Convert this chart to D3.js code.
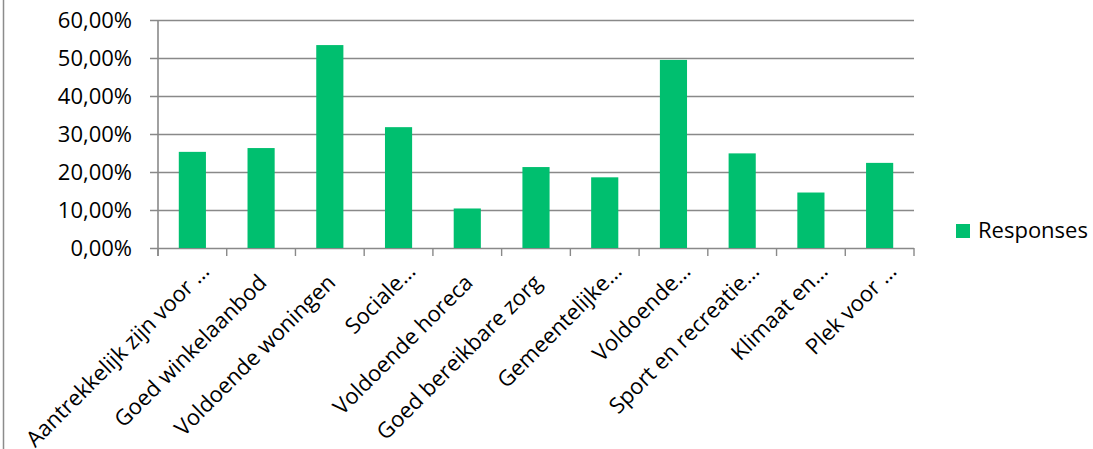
<!DOCTYPE html>
<html>
<head>
<meta charset="utf-8">
<script src="https://cdn.jsdelivr.net/npm/d3@7"></script>
<style>
  html, body { margin: 0; padding: 0; background: #fff; }
  svg { display: block; font-family: "Open Sans", sans-serif; }
</style>
</head>
<body>
<div id="chart"></div>
<script>
// Answer categories (as truncated on the axis) and the share of responses
const categories = [
  "Aantrekkelijk zijn voor …",
  "Goed winkelaanbod",
  "Voldoende woningen",
  "Sociale…",
  "Voldoende horeca",
  "Goed bereikbare zorg",
  "Gemeentelijke…",
  "Voldoende…",
  "Sport en recreatie…",
  "Klimaat en…",
  "Plek voor …"
];
const responses = [0.253, 0.263, 0.534, 0.318, 0.104, 0.213, 0.186, 0.495, 0.249, 0.146, 0.224];
const yTicks = [0, 0.1, 0.2, 0.3, 0.4, 0.5, 0.6];
const seriesName = "Responses";

const width = 1093,
  height = 449,
  plotLeft = 158,
  plotRight = 914,
  plotTop = 20,
  plotBottom = 248,
  barColor = "#00bf6f",
  gridColor = "#898989",
  fontSize = 22;

const nl = d3.formatLocale({ decimal: ",", thousands: ".", grouping: [3], currency: ["€", ""] });
const pct = nl.format(".2%");

const x = d3.scaleBand().domain(categories).range([plotLeft, plotRight]);
const y = d3.scaleLinear().domain([0, 0.6]).range([plotBottom, plotTop]);
const barWidth = x.bandwidth() * 0.395;

const svg = d3.select("#chart")
  .append("svg")
  .attr("width", width)
  .attr("height", height);

// outer frame line on the left
svg.append("line")
  .attr("x1", 3.5).attr("x2", 3.5)
  .attr("y1", 0).attr("y2", height)
  .attr("stroke", "#8c8c8c")
  .attr("stroke-width", 1.5);

// gridlines with the tick labels
const yAxis = d3.axisLeft(y)
  .tickValues(yTicks)
  .tickSize(-(plotRight - plotLeft))
  .tickPadding(0)
  .tickFormat(pct);

svg.append("g")
  .attr("transform", `translate(${plotLeft},0)`)
  .call(yAxis)
  .call(g => g.select(".domain").remove())
  .call(g => g.selectAll(".tick line")
    .attr("x1", -8)
    .attr("stroke", gridColor)
    .attr("stroke-width", 1.4))
  .call(g => g.selectAll(".tick text")
    .attr("x", -26)
    .attr("fill", "#000")
    .attr("font-size", fontSize)
    .attr("font-family", "Open Sans, sans-serif"));

// bars
svg.append("g")
  .selectAll("rect")
  .data(responses)
  .join("rect")
  .attr("x", (d, i) => x(categories[i]) + (x.bandwidth() - barWidth) / 2)
  .attr("width", barWidth)
  .attr("y", d => y(d))
  .attr("height", d => y(0) - y(d))
  .attr("fill", barColor);

// vertical axis line
svg.append("line")
  .attr("x1", plotLeft).attr("x2", plotLeft)
  .attr("y1", plotTop).attr("y2", plotBottom + 8)
  .attr("stroke", gridColor)
  .attr("stroke-width", 1.6);

// category ticks on the baseline
const edges = categories.map(c => x(c)).concat([plotRight]);
svg.append("g")
  .selectAll("line")
  .data(edges)
  .join("line")
  .attr("x1", d => d).attr("x2", d => d)
  .attr("y1", plotBottom).attr("y2", plotBottom + 8)
  .attr("stroke", gridColor)
  .attr("stroke-width", 1.4);

// rotated category labels
svg.append("g")
  .selectAll("text")
  .data(categories)
  .join("text")
  .attr("transform", d => `translate(${x(d) + x.bandwidth() / 2 + 7},${plotBottom + 36}) rotate(-45)`)
  .attr("text-anchor", "end")
  .attr("font-size", fontSize)
  .attr("fill", "#000")
  .attr("dx", d => d.endsWith("…") ? 16 : 0)
  .text(d => d);

// legend
const legend = svg.append("g").attr("transform", "translate(956,224)");
legend.append("rect")
  .attr("width", 14).attr("height", 14)
  .attr("fill", barColor);
legend.append("text")
  .attr("x", 22).attr("y", 14)
  .attr("font-size", fontSize)
  .attr("fill", "#000")
  .text(seriesName);
</script>
</body>
</html>
